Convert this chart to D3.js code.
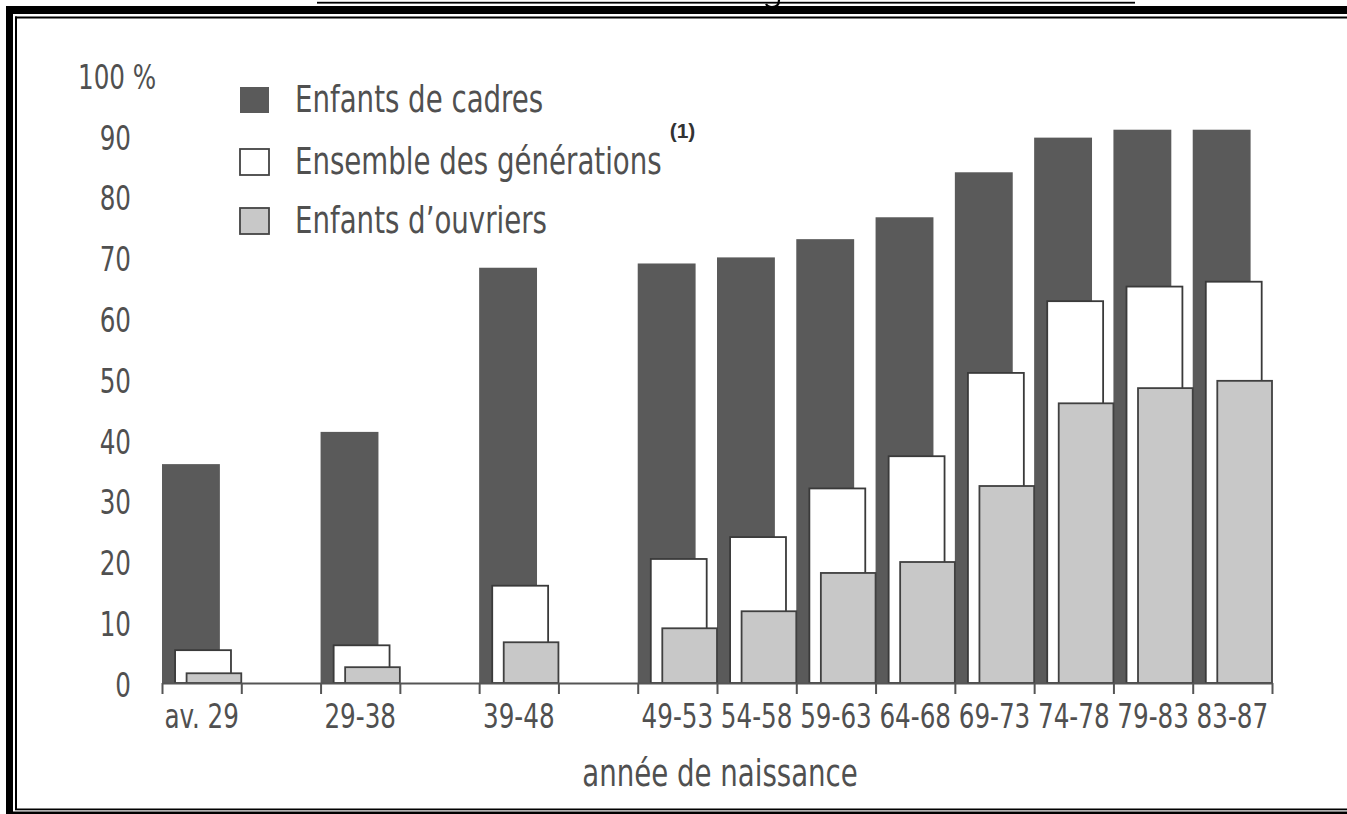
<!DOCTYPE html>
<html>
<head>
<meta charset="utf-8">
<script src="https://cdn.jsdelivr.net/npm/d3@7"></script>
<style>
  html, body { margin: 0; padding: 0; background: #fff; }
  svg { display: block; }
  text { font-family: "Liberation Sans Narrow", "DejaVu Sans Condensed", sans-serif; fill: #505050; }
</style>
</head>
<body>
<div class="chart"></div>
<script>
// periods of birth, and the first year of each (av. 29 = the ten years before 1929)
const periods = ["av. 29", "29-38", "39-48", "49-53", "54-58", "59-63", "64-68", "69-73", "74-78", "79-83", "83-87"];
const startYears = [1919, 1929, 1939, 1949, 1954, 1959, 1964, 1969, 1974, 1979, 1984];

// % of each generation holding the baccalauréat
const cadres = [36, 41.3, 68.3, 69, 70, 73, 76.6, 84, 89.7, 91, 91];
const ensemble = [5.4, 6.2, 16, 20.4, 24, 32, 37.3, 51, 62.8, 65.2, 66];
const ouvriers = [1.6, 2.6, 6.7, 9, 11.8, 18.1, 19.9, 32.4, 46, 48.5, 49.7];

const yTicks = [0, 10, 20, 30, 40, 50, 60, 70, 80, 90, 100];
const legendLabels = ["Enfants de cadres", "Ensemble des générations", "Enfants d\u2019ouvriers"];

const width = 1347,
  height = 814;
const colors = ["#5a5a5a", "#ffffff", "#c8c8c8"];
const squeeze = 0.83; // the print uses a condensed face

const svg = d3
  .select(".chart")
  .append("svg")
  .attr("width", width)
  .attr("height", height);

// condensed text: place at (x, y) and squeeze horizontally
const narrowText = (sel, px, py) =>
  sel.attr("transform", (d, i) => {
    var tx = typeof px === "function" ? px(d, i) : px;
    var ty = typeof py === "function" ? py(d, i) : py;
    return "translate(" + tx + "," + ty + ") scale(" + squeeze + ",1)";
  });

// frame of the scanned page
const ink = "#000";
svg.append("rect").attr("x", 6).attr("y", 6).attr("width", width - 6).attr("height", 8).attr("fill", ink);
svg.append("rect").attr("x", 6).attr("y", 6).attr("width", 7).attr("height", height - 6).attr("fill", ink);
svg.append("rect").attr("x", 15).attr("y", 16.5).attr("width", width - 15).attr("height", 2).attr("fill", ink);
svg.append("rect").attr("x", 15).attr("y", 16.5).attr("width", 2).attr("height", 793).attr("fill", ink);
svg.append("rect").attr("x", 15).attr("y", 808.5).attr("width", width - 15).attr("height", 1.8).attr("fill", ink);
svg.append("rect").attr("x", 6).attr("y", 811.5).attr("width", width - 6).attr("height", 3).attr("fill", ink);
// underline of the cut-off caption above, with the tail of one letter
svg.append("rect").attr("x", 317).attr("y", 1.8).attr("width", 818).attr("height", 1.8).attr("fill", ink);
svg
  .append("path")
  .attr("d", "M779,0 C779,6 775,7 772,7 C769,7 767,6 766,4")
  .attr("fill", "none")
  .attr("stroke", ink)
  .attr("stroke-width", 2.2);

var x = d3.scaleLinear().domain([1919, 1989]).range([162, 1272]);
var y = d3.scaleLinear().domain([0, 100]).range([683, 75]);
const span = 5; // every group is drawn five years wide

/* ------- BARS -------*/
// left and right edge of each series as a share of the group width
const layers = [
  { values: cadres, fill: colors[0], stroke: "none", from: 0, to: 0.73 },
  { values: ensemble, fill: colors[1], stroke: "#3a3a3a", from: 0.165, to: 0.87 },
  { values: ouvriers, fill: colors[2], stroke: "#404040", from: 0.31, to: 1 },
];

var groupW = x(1919 + span) - x(1919);

layers.forEach((layer) => {
  svg
    .append("g")
    .selectAll("rect")
    .data(layer.values)
    .enter()
    .append("rect")
    .attr("x", (d, i) => x(startYears[i]) + groupW * layer.from)
    .attr("width", groupW * (layer.to - layer.from))
    .attr("y", (d) => y(d))
    .attr("height", (d) => y(0) - y(d))
    .attr("fill", layer.fill)
    .attr("stroke", layer.stroke)
    .attr("stroke-width", 1.8);
});

/* ------- AXES -------*/
var tickYears = [];
startYears.forEach((s) => {
  tickYears.push(s);
  tickYears.push(s + span);
});

var xAxis = svg
  .append("g")
  .attr("transform", "translate(0," + y(0) + ")")
  .call(
    d3
      .axisBottom(x)
      .tickValues(Array.from(new Set(tickYears)))
      .tickFormat("")
      .tickSize(11)
      .tickSizeOuter(0)
  );
xAxis.selectAll("path, line").attr("stroke", "#555").attr("stroke-width", 2);

svg
  .append("g")
  .selectAll("text")
  .data(periods)
  .enter()
  .append("text")
  .call(narrowText, (d, i) => x(startYears[i] + span / 2), 728)
  .attr("text-anchor", "middle")
  .style("font-size", "33px")
  .text((d) => d);

svg
  .append("text")
  .call(narrowText, 720, 786)
  .attr("text-anchor", "middle")
  .style("font-size", "37px")
  .text("année de naissance");

var yAxis = svg
  .append("g")
  .attr("transform", "translate(131,0)")
  .call(
    d3
      .axisLeft(y)
      .tickValues(yTicks)
      .tickSize(0)
      .tickPadding(0)
      .tickFormat((d) => (d === 100 ? "100 %" : d))
  );
yAxis.select(".domain").remove();
yAxis
  .selectAll("text")
  .style("font-size", "33px")
  .style("font-family", "Liberation Sans Narrow, DejaVu Sans Condensed, sans-serif")
  .attr("fill", "#505050")
  .attr("dy", "0.4em")
  .attr("transform", "scale(" + squeeze + ",1)");
yAxis
  .selectAll(".tick")
  .filter((d) => d === 100)
  .select("text")
  .attr("text-anchor", "start")
  .attr("x", -53 / squeeze);

/* ------- LEGEND -------*/
const legendRows = [100, 162, 221];
var legend = svg
  .append("g")
  .selectAll("g")
  .data(legendLabels)
  .enter()
  .append("g")
  .attr("transform", (d, i) => "translate(240," + legendRows[i] + ")");

legend
  .append("rect")
  .attr("x", 0)
  .attr("y", -13)
  .attr("width", 29)
  .attr("height", 26)
  .attr("fill", (d, i) => colors[i])
  .attr("stroke", (d, i) => (i === 0 ? "none" : "#444"))
  .attr("stroke-width", 1.8);

legend
  .append("text")
  .call(narrowText, 55, 12)
  .style("font-size", "37px")
  .text((d) => d);

var second = legend.filter((d, i) => i === 1).select("text");
var len = second.node().getComputedTextLength() * squeeze;
legend
  .filter((d, i) => i === 1)
  .append("text")
  .attr("x", 55 + len + 8)
  .attr("y", -24)
  .style("font-family", "Liberation Sans, Arial, sans-serif")
  .style("font-weight", "bold")
  .style("font-size", "21px")
  .style("fill", "#333")
  .text("(1)");
</script>
</body>
</html>
